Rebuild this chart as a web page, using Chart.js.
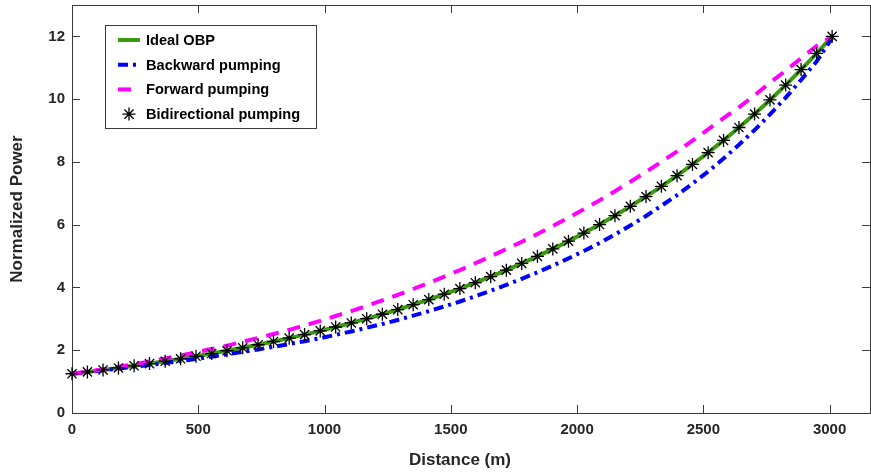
<!DOCTYPE html>
<html>
<head>
<meta charset="utf-8">
<script src="https://cdn.jsdelivr.net/npm/chart.js@4.4.1/dist/chart.umd.min.js"></script>
<style>
  html, body { margin: 0; padding: 0; background: #fff; }
  #wrap { width: 871px; height: 474px; position: relative; }
</style>
</head>
<body>
<div id="wrap"><canvas id="power"></canvas></div>
<script>
// distance along the fibre (m), one point per marker
const distance = [0, 61, 123, 184, 246, 307, 369, 430, 491, 553, 614, 676, 737, 798, 860, 921, 983, 1044, 1106, 1167,
  1229, 1290, 1351, 1413, 1474, 1536, 1597, 1658, 1720, 1781, 1843, 1904, 1966, 2027, 2089, 2150, 2211, 2273, 2334, 2396,
  2457, 2519, 2580, 2641, 2703, 2764, 2826, 2887, 2949, 3010];

const idealOBP = [1.250, 1.309, 1.371, 1.436, 1.504, 1.575, 1.649, 1.727, 1.808, 1.894, 1.983, 2.077, 2.175, 2.278, 2.385,
  2.498, 2.616, 2.740, 2.869, 3.005, 3.147, 3.295, 3.451, 3.614, 3.785, 3.963, 4.151, 4.347, 4.552, 4.767, 4.992, 5.228,
  5.475, 5.734, 6.005, 6.288, 6.585, 6.896, 7.222, 7.563, 7.920, 8.295, 8.686, 9.097, 9.526, 9.976, 10.448, 10.941, 11.458, 12.000];

const backwardPumping = [1.250, 1.304, 1.361, 1.416, 1.474, 1.530, 1.589, 1.657, 1.723, 1.794, 1.868, 1.947, 2.025, 2.108,
  2.195, 2.288, 2.386, 2.490, 2.599, 2.715, 2.837, 2.965, 3.101, 3.244, 3.395, 3.553, 3.721, 3.897, 4.082, 4.277, 4.482,
  4.698, 4.925, 5.164, 5.415, 5.688, 5.975, 6.276, 6.602, 6.943, 7.310, 7.695, 8.106, 8.547, 9.016, 9.516, 10.048, 10.611,
  11.208, 11.950];

const forwardPumping = [1.250, 1.319, 1.391, 1.471, 1.554, 1.640, 1.734, 1.832, 1.933, 2.039, 2.148, 2.267, 2.390, 2.518,
  2.650, 2.788, 2.936, 3.090, 3.249, 3.415, 3.587, 3.765, 3.951, 4.144, 4.345, 4.553, 4.771, 4.992, 5.222, 5.457, 5.702,
  5.958, 6.220, 6.494, 6.775, 7.068, 7.370, 7.681, 8.002, 8.333, 8.680, 9.035, 9.396, 9.737, 10.126, 10.526, 10.908,
  11.301, 11.698, 12.000];

const bidirectionalPumping = [1.250, 1.309, 1.371, 1.436, 1.504, 1.575, 1.649, 1.727, 1.808, 1.894, 1.983, 2.077, 2.175,
  2.278, 2.385, 2.498, 2.616, 2.740, 2.869, 3.005, 3.147, 3.295, 3.451, 3.614, 3.785, 3.963, 4.151, 4.347, 4.552, 4.767,
  4.992, 5.228, 5.475, 5.734, 6.005, 6.288, 6.585, 6.896, 7.222, 7.563, 7.920, 8.295, 8.686, 9.097, 9.526, 9.976, 10.448,
  10.941, 11.458, 12.000];

const xTicks = [0, 500, 1000, 1500, 2000, 2500, 3000];
const yTicks = [0, 2, 4, 6, 8, 10, 12];
const xTitle = 'Distance (m)';
const yTitle = 'Normalized Power';

const FONT = "'Liberation Sans', Arial, Helvetica, sans-serif";
const AXIS = '#3a3a3a';
const TEXT = '#262626';

function pts(ys) {
  return distance.map((d, i) => ({ x: d, y: ys[i] }));
}

function star(ctx, x, y, r) {
  ctx.beginPath();
  for (let k = 0; k < 4; k++) {
    const a = k * Math.PI / 4;
    ctx.moveTo(x - r * Math.cos(a), y - r * Math.sin(a));
    ctx.lineTo(x + r * Math.cos(a), y + r * Math.sin(a));
  }
  ctx.stroke();
}

// MATLAB style frame: box, inward ticks on all four sides, axis titles
const matlabFrame = {
  id: 'matlabFrame',
  beforeDatasetsDraw(chart) {
    const { ctx, chartArea: a, scales } = chart;
    ctx.save();
    ctx.strokeStyle = AXIS;
    ctx.lineWidth = 1;
    ctx.setLineDash([]);
    ctx.strokeRect(a.left + 0.5, a.top + 0.5, a.right - a.left, a.bottom - a.top);
    const len = 8;
    ctx.beginPath();
    scales.x.ticks.forEach(t => {
      const px = Math.round(scales.x.getPixelForValue(t.value)) + 0.5;
      ctx.moveTo(px, a.bottom); ctx.lineTo(px, a.bottom - len);
      ctx.moveTo(px, a.top); ctx.lineTo(px, a.top + len);
    });
    scales.y.ticks.forEach(t => {
      const py = Math.round(scales.y.getPixelForValue(t.value)) + 0.5;
      ctx.moveTo(a.left, py); ctx.lineTo(a.left + len, py);
      ctx.moveTo(a.right, py); ctx.lineTo(a.right - len, py);
    });
    ctx.stroke();

    ctx.fillStyle = TEXT;
    ctx.font = 'bold 17px ' + FONT;
    ctx.textAlign = 'center';
    ctx.textBaseline = 'middle';
    ctx.fillText(xTitle, 460, 460);
    ctx.translate(17, (a.top + a.bottom) / 2);
    ctx.rotate(-Math.PI / 2);
    ctx.fillText(yTitle, 0, 0);
    ctx.restore();
  },
  afterDraw(chart) {
    const { ctx } = chart;
    const box = { x: 105.5, y: 25.5, w: 211, h: 103 };
    ctx.save();
    ctx.fillStyle = '#fff';
    ctx.fillRect(box.x, box.y, box.w, box.h);
    ctx.strokeStyle = AXIS;
    ctx.lineWidth = 1;
    ctx.strokeRect(box.x, box.y, box.w, box.h);
    ctx.font = 'bold 14.6px ' + FONT;
    ctx.textBaseline = 'middle';
    ctx.textAlign = 'left';
    chart.data.datasets.forEach((ds, i) => {
      const y = 40 + i * 24.7;
      if (ds.showLine) {
        ctx.strokeStyle = ds.borderColor;
        ctx.lineWidth = ds.borderWidth;
        ctx.setLineDash(ds.borderDash || []);
        ctx.beginPath();
        ctx.moveTo(118, y);
        ctx.lineTo(140, y);
        ctx.stroke();
      } else {
        ctx.setLineDash([]);
        ctx.strokeStyle = ds.pointBorderColor;
        ctx.lineWidth = ds.pointBorderWidth;
        star(ctx, 129, y, ds.pointRadius);
      }
      ctx.setLineDash([]);
      ctx.fillStyle = '#000';
      ctx.fillText(ds.label, 146, y + 1);
    });
    ctx.restore();
  }
};

new Chart(document.getElementById('power').getContext('2d'), {
  type: 'scatter',
  data: {
    datasets: [
      {
        label: 'Ideal OBP',
        data: pts(idealOBP),
        showLine: true,
        borderColor: '#3d9a0e',
        borderWidth: 4,
        pointRadius: 0,
        tension: 0,
        order: 3
      },
      {
        label: 'Backward pumping',
        data: pts(backwardPumping),
        showLine: true,
        borderColor: '#0000ff',
        borderWidth: 4,
        borderDash: [10, 5, 3, 5],
        pointRadius: 0,
        tension: 0,
        order: 2
      },
      {
        label: 'Forward pumping',
        data: pts(forwardPumping),
        showLine: true,
        borderColor: '#ff00ff',
        borderWidth: 4,
        borderDash: [13, 9],
        pointRadius: 0,
        tension: 0,
        order: 1
      },
      {
        label: 'Bidirectional pumping',
        data: pts(bidirectionalPumping),
        showLine: false,
        pointStyle: 'star',
        pointRadius: 6.5,
        pointBorderWidth: 1.3,
        pointBorderColor: '#000',
        pointBackgroundColor: '#000',
        pointHoverRadius: 6.5,
        clip: false,
        order: 0
      }
    ]
  },
  options: {
    responsive: true,
    maintainAspectRatio: false,
    animation: false,
    events: [],
    layout: { autoPadding: false, padding: { top: 5, right: 1, left: 0, bottom: 0 } },
    plugins: {
      legend: { display: false },
      tooltip: { enabled: false }
    },
    scales: {
      x: {
        type: 'linear',
        min: 0,
        max: 3160,
        afterBuildTicks: s => { s.ticks = xTicks.map(v => ({ value: v })); },
        afterFit: s => { s.height = 61; s.paddingLeft = 0; s.paddingRight = 0; },
        grid: { display: false, drawTicks: false },
        border: { display: false },
        ticks: {
          padding: 8,
          color: TEXT,
          callback: v => String(v),
          font: { family: FONT, size: 15, weight: 'bold' },
          maxRotation: 0
        }
      },
      y: {
        type: 'linear',
        min: 0,
        max: 13,
        afterBuildTicks: s => { s.ticks = yTicks.map(v => ({ value: v })); },
        afterFit: s => { s.width = 72; s.paddingTop = 0; s.paddingBottom = 0; },
        grid: { display: false, drawTicks: false },
        border: { display: false },
        ticks: {
          padding: 7,
          color: TEXT,
          callback: v => String(v),
          font: { family: FONT, size: 15, weight: 'bold' }
        }
      }
    }
  },
  plugins: [matlabFrame]
});
</script>
</body>
</html>
